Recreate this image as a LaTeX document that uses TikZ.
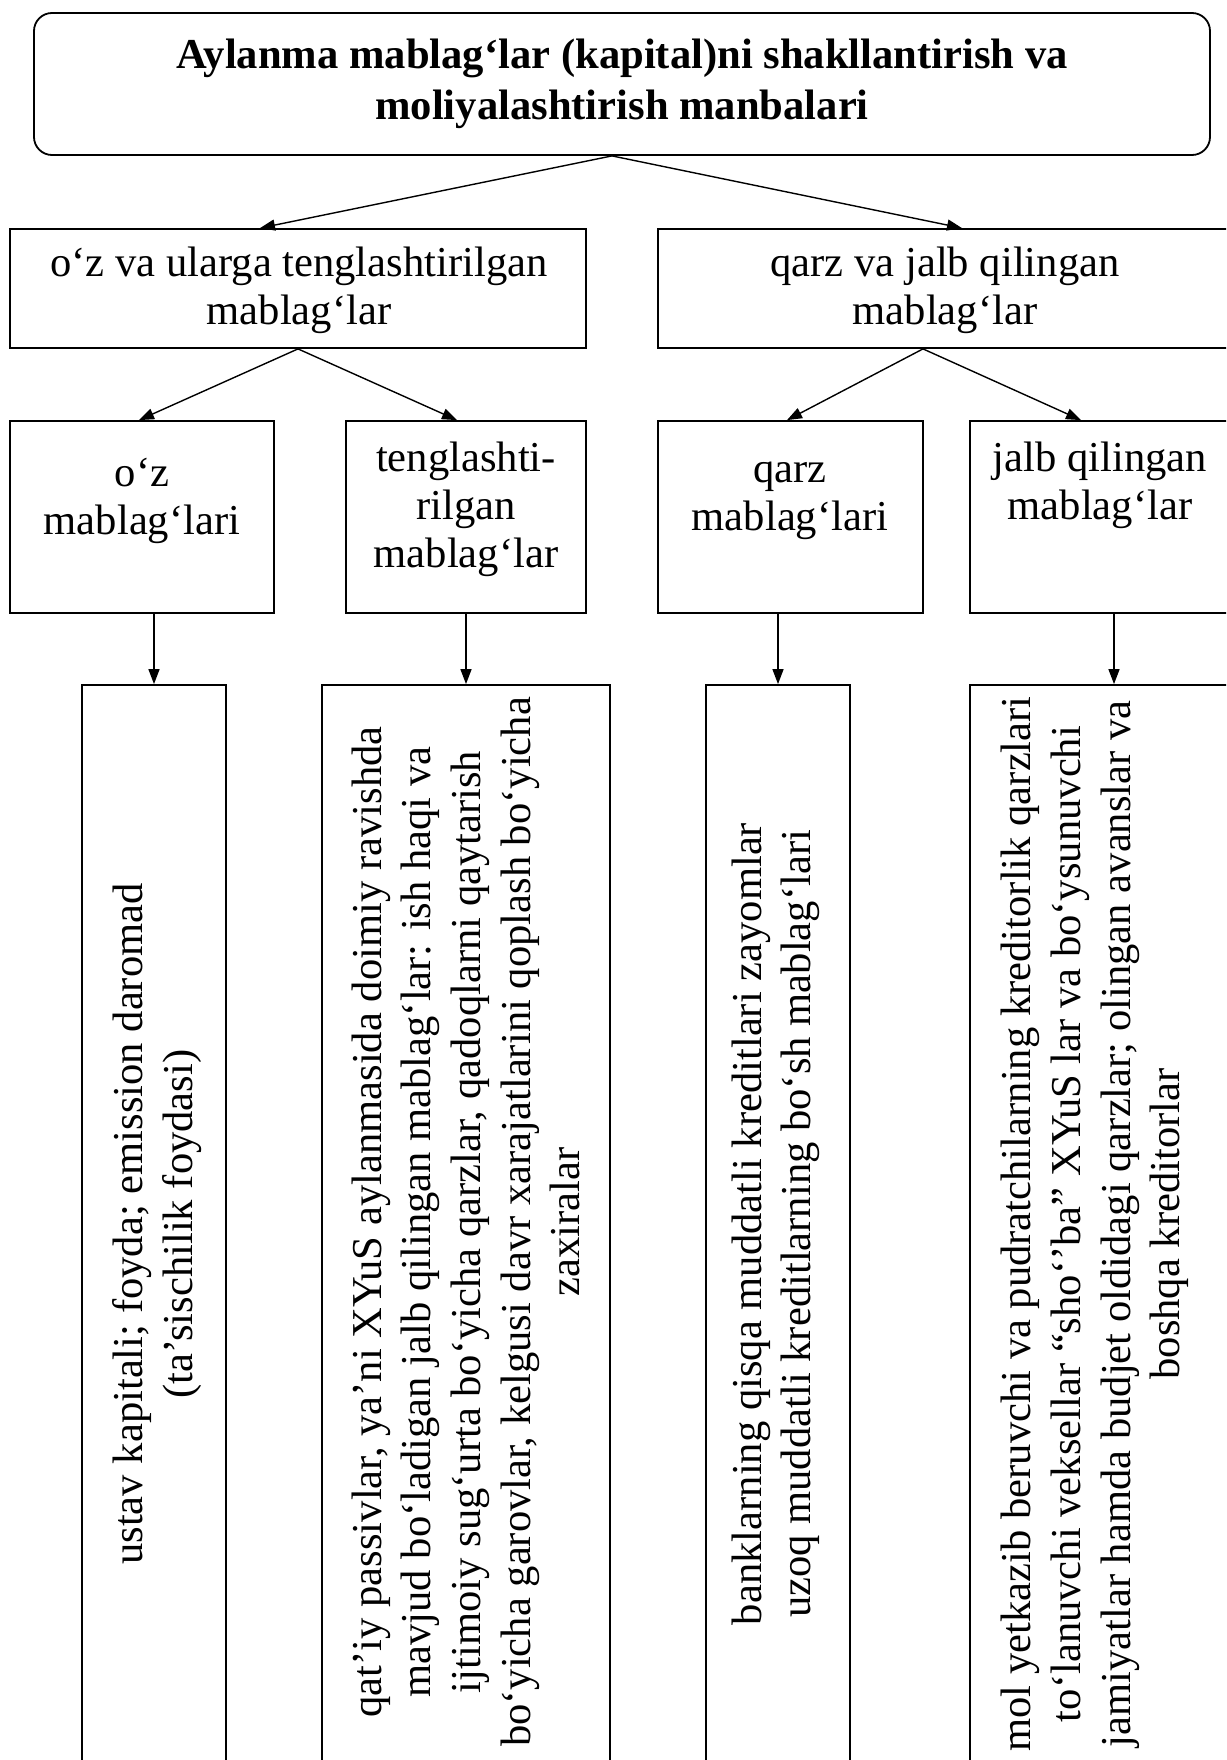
\documentclass[tikz,border=0pt]{standalone}
\usepackage{fontspec}
\setmainfont{Liberation Serif}
\usetikzlibrary{arrows.meta,calc}
\begin{document}
\begin{tikzpicture}[x=0.5pt,y=-0.5pt,
  box/.style={draw, line width=0.9pt, inner sep=0pt},
  txt/.style={align=center, font=\fontsize{21.3}{24}\selectfont, inner sep=0pt},
  vtxt/.style={align=center, font=\fontsize{21.3}{24.8}\selectfont, inner sep=0pt, rotate=90},
  arr/.style={line width=0.7pt, -{Triangle[length=7.5pt,width=5.5pt]}}]
\useasboundingbox (0,0) rectangle (1226,1760);
\fill[white] (0,0) rectangle (1226,1760);
\clip (0,0) rectangle (1226,1760);

% top
\node[box, rounded corners=9pt, minimum width=588pt, minimum height=71pt, align=center,
  font=\bfseries\fontsize{21.3}{25.5}\selectfont] (top) at (622,84)
  {Aylanma mablag‘lar (kapital)ni shakllantirish va\\moliyalashtirish manbalari};

% level 2
\node[box, minimum width=288pt, minimum height=59.5pt] (l2a) at (298,288.5) {};
\node[txt] (t2a) at (299,290) {o‘z va ularga tenglashtirilgan\\mablag‘lar};
\node[box, minimum width=287pt, minimum height=59.5pt] (l2b) at (945,288.5) {};
\node[txt] (t2b) at (945,290) {qarz va jalb qilingan\\mablag‘lar};

% level 3
\node[box, minimum width=132pt, minimum height=96pt] (l3a) at (142,517) {};
\node[box, minimum width=120pt, minimum height=96pt] (l3b) at (466,517) {};
\node[box, minimum width=132.5pt, minimum height=96pt] (l3c) at (790.5,517) {};
\node[box, minimum width=131pt, minimum height=96pt] (l3d) at (1101,517) {};
\node[txt] (t3a) at (142,501) {o‘z\\mablag‘lari};
\node[txt] (t3b) at (466,509) {tenglashti-\\rilgan\\mablag‘lar};
\node[txt] (t3c) at (790,501) {qarz\\mablag‘lari};
\node[txt] (t3d) at (1100,485) {jalb qilingan\\mablag‘lar};

% level 4
\node[box, minimum width=72pt, minimum height=539pt] (l4a) at (154,1224) {};
\node[box, minimum width=144pt, minimum height=539pt] (l4b) at (466,1224) {};
\node[box, minimum width=72pt, minimum height=539pt] (l4c) at (778,1224) {};
\node[box, minimum width=131pt, minimum height=539pt] (l4d) at (1101,1224) {};
\node[vtxt] (t4a) at (157,1224) {ustav kapitali; foyda; emission daromad\\(ta’sischilik foydasi)};
\node[vtxt] (t4b) at (466,1222) {qat’iy passivlar, ya’ni XYuS aylanmasida doimiy ravishda\\mavjud bo‘ladigan jalb qilingan mablag‘lar: ish haqi va\\ijtimoiy sug‘urta bo‘yicha qarzlar, qadoqlarni qaytarish\\bo‘yicha garovlar, kelgusi davr xarajatlarini qoplash bo‘yicha\\zaxiralar};
\node[vtxt] (t4c) at (776,1224) {banklarning qisqa muddatli kreditlari zayomlar\\uzoq muddatli kreditlarning bo‘sh mablag‘lari};
\node[vtxt] (t4d) at (1095,1224) {mol yetkazib beruvchi va pudratchilarning kreditorlik qarzlari\\to‘lanuvchi veksellar “sho‘’ba” XYuS lar va bo‘ysunuvchi\\jamiyatlar hamda budjet oldidagi qarzlar; olingan avanslar va\\boshqa kreditorlar};

% connectors
\draw[arr] ([xshift=-5pt]top.south) -- ([xshift=-19pt]l2a.north);
\draw[arr] ([xshift=-5pt]top.south) -- ([xshift=8.5pt]l2b.north);
\draw[arr] (l2a.south) -- ([xshift=-1.5pt]l3a.north);
\draw[arr] (l2a.south) -- ([xshift=-4.5pt]l3b.north);
\draw[arr] ([xshift=-11pt]l2b.south) -- ([xshift=-1.75pt]l3c.north);
\draw[arr] ([xshift=-11pt]l2b.south) -- ([xshift=-10pt]l3d.north);
\draw[arr] ([xshift=6pt]l3a.south) -- (l4a.north);
\draw[arr] (l3b.south) -- (l4b.north);
\draw[arr] ([xshift=-6.25pt]l3c.south) -- (l4c.north);
\draw[arr] ([xshift=6.5pt]l3d.south) -- ([xshift=6.5pt]l4d.north);
\end{tikzpicture}
\end{document}
